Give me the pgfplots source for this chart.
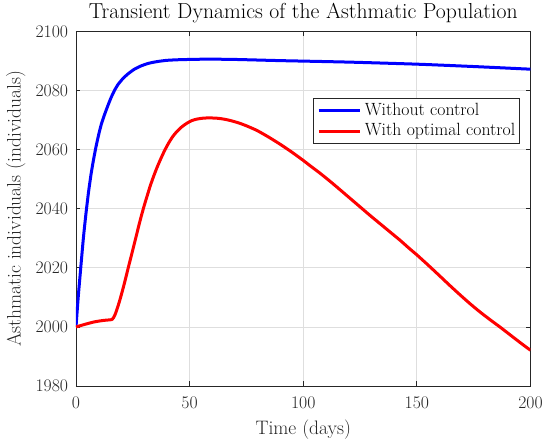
\documentclass[border=0pt]{standalone}
\usepackage{pgfplots}
\pgfplotsset{compat=1.18}
\definecolor{axgray}{rgb}{0.15,0.15,0.15}
\definecolor{gridgray}{rgb}{0.87,0.87,0.87}
\begin{document}
\begin{tikzpicture}
\useasboundingbox (0,0) rectangle (550pt,444pt);
\begin{axis}[
  at={(76pt,58pt)}, anchor=south west,
  scale only axis, width=454.5pt, height=354.3pt,
  xmin=0, xmax=200, ymin=1980, ymax=2100,
  xtick={0,50,100,150,200}, ytick={1980,2000,2020,2040,2060,2080,2100},
  /pgf/number format/assume math mode=true,
  /pgf/number format/set thousands separator={},
  tick align=inside, major tick length=4.5pt,
  axis line style={axgray, line width=0.8pt},
  every tick/.style={axgray, line width=0.8pt},
  grid=major, major grid style={gridgray, line width=0.8pt},
  ticklabel style={font=\fontsize{17.7}{21}\selectfont, text=axgray},
  xticklabel style={anchor=base, inner sep=0pt, yshift=-22.3pt},
  yticklabel style={anchor=east, inner sep=0pt, xshift=-7.7pt},
  label style={font=\fontsize{19.5}{23}\selectfont, text=axgray},
  xlabel={Time (days)},
  ylabel={Asthmatic individuals (individuals)},
  xlabel style={at={(axis description cs:0.5,-0.1355)}, anchor=base},
  ylabel style={at={(axis description cs:-0.1217,0.5)}, anchor=base},
  title={Transient Dynamics of the Asthmatic Population},
  title style={at={(axis description cs:0.5,1.0198)}, anchor=base, yshift=0pt, inner sep=0pt, font=\fontsize{21.7}{25}\selectfont},
  legend style={at={(axis description cs:0.976,0.812)}, anchor=north east,
    draw=axgray, line width=0.8pt, fill=white, font=\fontsize{17.7}{21}\selectfont,
    inner xsep=4pt, inner ysep=2pt, column sep=3pt,
    nodes={inner xsep=0pt, inner ysep=2.5pt, text height=12pt, text depth=3.5pt}},
  legend cell align=left,
  legend image code/.code={\draw[#1, line width=3pt] (0pt,0pt) -- (41.7pt,0pt);},
]
\addplot[blue, line width=3pt, smooth, tension=0.4, line join=round] coordinates {
(0,2000) (1,2010.3) (2.2,2021) (3.3,2030.5) (4.4,2038.5) (5.5,2045.6) (6.6,2051.6)
(7.7,2056.6) (8.8,2061) (10,2065.2) (11.2,2068.8) (12.5,2071.8) (14,2074.9) (15.4,2077.6)
(16.8,2079.9) (18.3,2081.9) (20.5,2084.0) (22.7,2085.6) (25.5,2087.2) (28.6,2088.4)
(32,2089.3) (35.9,2089.9) (40,2090.3) (45,2090.5) (50,2090.6) (58,2090.7) (70,2090.6)
(90,2090.2) (120,2089.7) (150,2089) (175,2088.2) (200,2087.3)
};
\addlegendentry{Without control}
\addplot[red, line width=3pt, smooth, tension=0.4, line join=round] coordinates {
(0,2000) (4,2000.9) (8,2001.7) (12,2002.2) (15.8,2002.5) (16.5,2003.1) (17.2,2004.2)
(18,2005.9) (19.1,2008.6) (20.2,2011.6) (21.3,2014.8) (22.4,2018.2) (23.5,2021.6)
(24.6,2024.9) (25.7,2028.3) (26.8,2031.7) (27.9,2035.1) (29.0,2038.3) (30.1,2041.3) (31.2,2044.1)
(32.6,2047.6) (34.1,2050.9) (35.6,2053.9) (37.1,2056.6) (38.9,2059.6) (40.7,2062.2) (42.5,2064.4)
(44.4,2066.2) (46.6,2067.8) (48.8,2069.0) (51,2069.9) (53.2,2070.4) (55.8,2070.7) (58.5,2070.8)
(62,2070.7) (65,2070.4) (68,2069.9) (72,2069.0) (76,2067.8) (80,2066.4) (85,2064.2)
(90,2061.8) (95,2059.2) (100,2056.4) (103.7,2054.2) (107.5,2052.0) (112,2049.2) (116.3,2046.4)
(120.7,2043.5) (125.1,2040.6) (129.5,2037.7) (133.9,2034.9) (138.3,2032.1) (142.7,2029.3)
(146.5,2026.7) (150.3,2024.2) (155.3,2020.7) (160.3,2017.1) (164.7,2013.9) (169.1,2010.8)
(173.5,2007.8) (177.9,2005.0) (182.3,2002.4) (186.7,1999.9) (190.4,1997.7) (194.1,1995.5)
(197,1993.8) (200,1992.1)
};
\addlegendentry{With optimal control}
\end{axis}
\end{tikzpicture}
\end{document}
